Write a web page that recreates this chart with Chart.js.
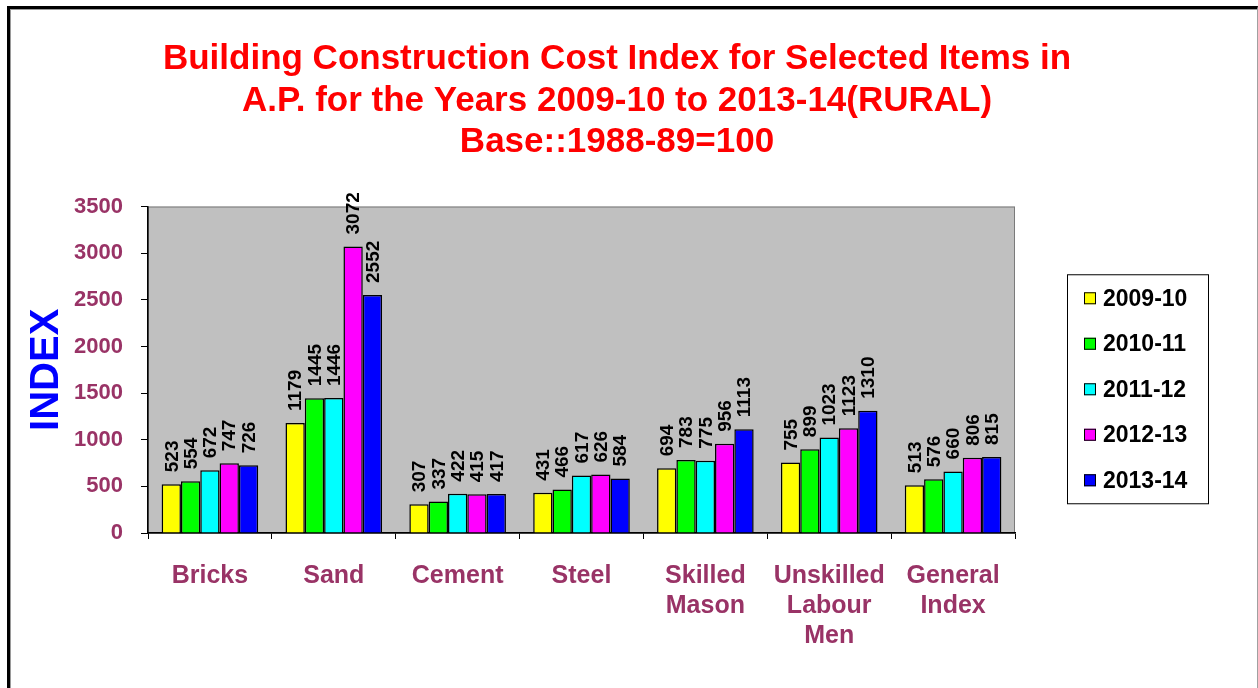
<!DOCTYPE html>
<html>
<head>
<meta charset="utf-8">
<script src="https://cdn.jsdelivr.net/npm/chart.js@4.4.1/dist/chart.umd.min.js"></script>
<style>
  html, body { margin: 0; padding: 0; background: #fff; overflow: hidden; }
  #wrap { position: relative; width: 1258px; height: 688px; }
  #frame {
    position: absolute; left: 7px; top: 6px; width: 1247px; height: 700px;
    border-left: 3px solid #000; border-top: 3px solid #000; border-right: 1px solid #a0a0a0;
    box-shadow: inset 1px 1px 0 #9a9a9a; pointer-events: none;
  }
</style>
</head>
<body>
<div id="wrap">
  <canvas id="chart" width="1258" height="688"></canvas>
  <div id="frame"></div>
</div>
<script>
// categorias y valores
const categorias = ["Bricks", "Sand", "Cement", "Steel", ["Skilled", "Mason"], ["Unskilled", "Labour", "Men"], ["General", "Index"]];
const anios = ["2009-10", "2010-11", "2011-12", "2012-13", "2013-14"];
const v2009 = [523, 1179, 307, 431, 694, 755, 513];
const v2010 = [554, 1445, 337, 466, 783, 899, 576];
const v2011 = [672, 1446, 422, 617, 775, 1023, 660];
const v2012 = [747, 3072, 415, 626, 956, 1123, 806];
const v2013 = [726, 2552, 417, 584, 1113, 1310, 815];
const colores = ["#ffff00", "#00ff00", "#00ffff", "#ff00ff", "#0000ff"];

const FONT = "'Liberation Sans', Arial, sans-serif";
const series = [v2009, v2010, v2011, v2012, v2013];

// fondo gris del area
const fondoPlugin = {
  id: "fondo",
  beforeDraw(chart) {
    const { ctx, chartArea: a } = chart;
    ctx.save();
    ctx.fillStyle = "#c0c0c0";
    ctx.fillRect(a.left, a.top, a.right - a.left, a.bottom - a.top);
    ctx.strokeStyle = "#7a7a7a";
    ctx.lineWidth = 1;
    ctx.strokeRect(a.left + 0.5, a.top + 0.5, a.right - a.left - 1, a.bottom - a.top);
    ctx.restore();
  }
};

// etiquetas verticales sobre las barras
const etiquetasPlugin = {
  id: "etiquetas",
  afterDatasetsDraw(chart) {
    const ctx = chart.ctx;
    ctx.save();
    ctx.font = "bold 19px " + FONT;
    ctx.fillStyle = "#000";
    ctx.textAlign = "left";
    ctx.textBaseline = "middle";
    chart.data.datasets.forEach((ds, i) => {
      chart.getDatasetMeta(i).data.forEach((bar, j) => {
        ctx.save();
        ctx.translate(bar.x + 1, bar.y - 12);
        ctx.rotate(-Math.PI / 2);
        ctx.fillText(String(ds.data[j]), 0, 0);
        ctx.restore();
      });
    });
    ctx.restore();
  }
};

// leyenda con recuadro
const leyendaPlugin = {
  id: "leyenda",
  afterDraw(chart) {
    const { ctx, chartArea: a } = chart;
    const w = 141, h = 229;
    const x = a.right + 52;
    const y = (a.top + a.bottom) / 2 + 19 - h / 2;
    ctx.save();
    ctx.fillStyle = "#fff";
    ctx.fillRect(x, y, w, h);
    ctx.strokeStyle = "#000";
    ctx.lineWidth = 1;
    ctx.strokeRect(x + 0.5, y + 0.5, w, h);
    ctx.font = "bold 23px " + FONT;
    ctx.textBaseline = "middle";
    ctx.textAlign = "left";
    chart.data.datasets.forEach((ds, i) => {
      const cy = y + 24 + i * 45.5;
      ctx.fillStyle = ds.backgroundColor;
      ctx.fillRect(x + 17, cy - 6, 12, 12);
      ctx.strokeRect(x + 17.5, cy - 5.5, 11, 11);
      ctx.fillStyle = "#000";
      ctx.fillText(ds.label, x + 36, cy + 1);
    });
    ctx.restore();
  }
};

const ctx = document.getElementById("chart");
const grafico = new Chart(ctx, {
  type: "bar",
  data: {
    labels: categorias,
    datasets: anios.map((a, i) => ({
      label: a,
      data: series[i],
      backgroundColor: colores[i],
      borderColor: "#000",
      borderWidth: 1.5,
      categoryPercentage: 0.78,
      barPercentage: 1
    }))
  },
  options: {
    responsive: false,
    animation: false,
    layout: { padding: { left: 10, right: 34, top: 0, bottom: 15 } },
    plugins: {
      legend: { display: false },
      tooltip: { enabled: false },
      title: {
        display: true,
        text: [
          "Building Construction Cost Index for Selected Items in",
          "A.P. for the Years 2009-10 to 2013-14(RURAL)",
          "Base::1988-89=100"
        ],
        color: "#ff0000",
        font: { family: FONT, size: 35, weight: "bold", lineHeight: 1.186 },
        padding: { top: 39, bottom: 43 }
      }
    },
    scales: {
      x: {
        grid: { display: true, drawOnChartArea: false, drawTicks: true, tickLength: 6, color: "#000", offset: true },
        border: { color: "#000", width: 1.5 },
        ticks: {
          color: "#993366",
          font: { family: FONT, size: 25, weight: "bold", lineHeight: 1.2 },
          padding: 22,
          maxRotation: 0,
          autoSkip: false
        }
      },
      y: {
        min: 0,
        max: 3500,
        afterFit(s) { s.width = 138; },
        grid: { display: true, drawOnChartArea: false, drawTicks: true, tickLength: 7, color: "#000" },
        border: { color: "#000", width: 1.5 },
        ticks: {
          stepSize: 500,
          color: "#993366",
          font: { family: FONT, size: 22, weight: "bold" },
          padding: 18,
          callback: (v) => String(v)
        },
        title: {
          display: true,
          text: "INDEX",
          color: "#0000ff",
          font: { family: FONT, size: 40, weight: "bold" },
          padding: { top: 13, bottom: 0 }
        }
      },
      // eje derecho vacio para reservar el espacio de la leyenda
      yDer: {
        position: "right",
        display: true,
        afterFit(s) { s.width = 209; },
        grid: { display: false, drawTicks: false },
        border: { display: false },
        ticks: { display: false }
      }
    }
  },
  plugins: [fondoPlugin, etiquetasPlugin, leyendaPlugin]
});
</script>
</body>
</html>
